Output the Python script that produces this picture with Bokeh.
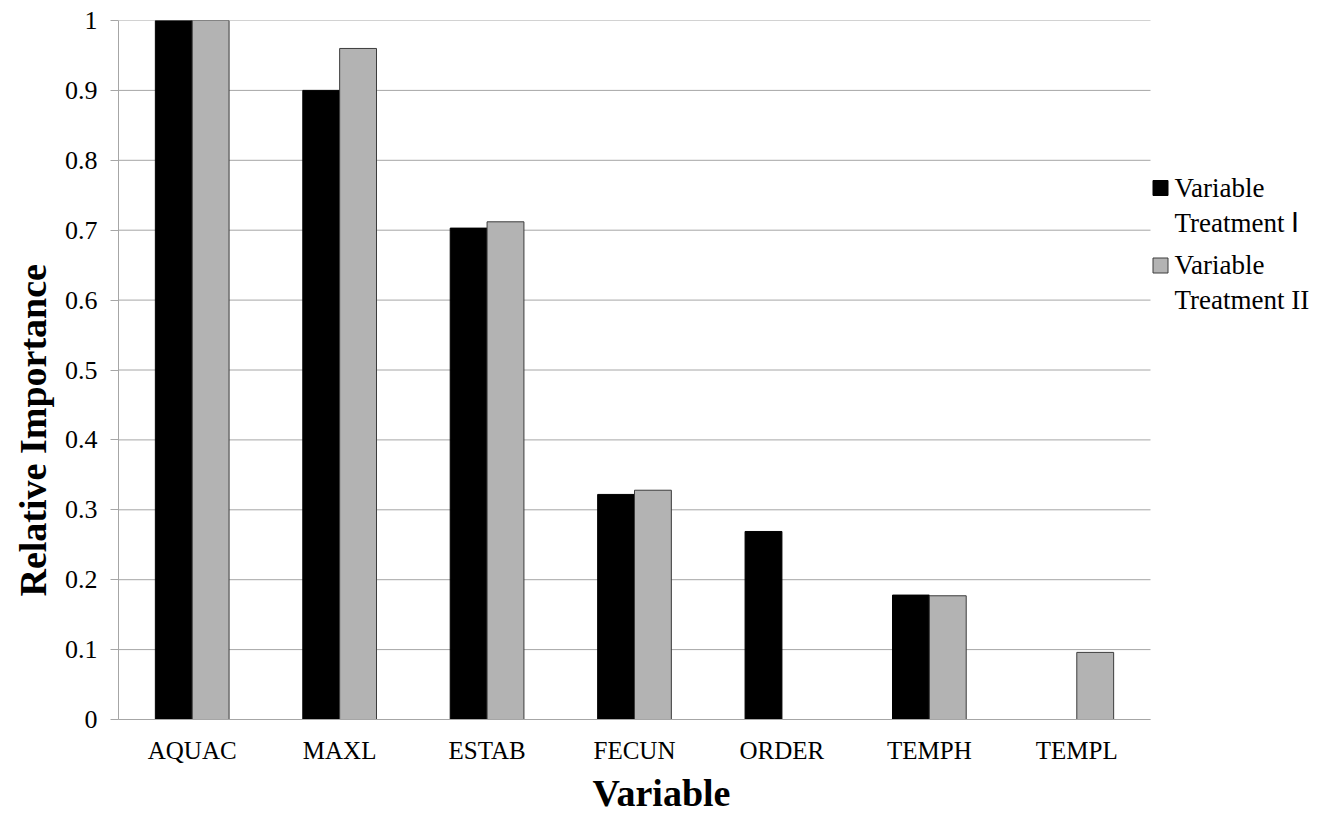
import numpy as np
from bokeh.plotting import figure
from bokeh.models import Range1d, FixedTicker, ColumnDataSource, Label, Title
from bokeh.embed import file_html
from bokeh.resources import INLINE

nan = float("nan")

# ---- data ----
categories = ["AQUAC", "MAXL", "ESTAB", "FECUN", "ORDER", "TEMPH", "TEMPL"]
treatment_1 = [1.0, 0.90, 0.703, 0.322, 0.269, 0.178, nan]
treatment_2 = [1.0, 0.96, 0.712, 0.328, nan, 0.177, 0.096]
y_ticks = [0, 0.1, 0.2, 0.3, 0.4, 0.5, 0.6, 0.7, 0.8, 0.9, 1.0]
y_tick_labels = ["0", "0.1", "0.2", "0.3", "0.4", "0.5", "0.6", "0.7", "0.8", "0.9", "1"]
legend_lines = [["Variable", "Treatment \u2160"], ["Variable", "Treatment II"]]
legend_fill = ["black", "#b3b3b3"]
legend_line = ["black", "#3c3c3c"]
x_title = "Variable"
y_title = "Relative Importance"

SERIF = "Liberation Serif"
GRID = "#a6a6a6"

# ---- layout geometry (pixels, canvas == page) ----
W, H = 1336, 816
B_LEFT, B_TOP, B_BOTTOM = 118, 20, 97
n = len(categories)
CAT_PX = (1150 - B_LEFT) / n          # pixel width of one category slot
frame_w = W - B_LEFT
frame_h = H - B_TOP - B_BOTTOM
x0 = -0.5
x1 = x0 + frame_w / CAT_PX
idx = np.arange(n)

def px_x(px):   # canvas pixel -> data x
    return x0 + (px - B_LEFT) / CAT_PX

def px_y(py):   # canvas pixel -> data y
    return (H - B_BOTTOM - py) / frame_h

src = ColumnDataSource(dict(x1=idx - 0.125, x2=idx + 0.125, t1=treatment_1, t2=treatment_2))

p = figure(
    x_range=Range1d(x0, x1), y_range=Range1d(0, 1),
    width=W, height=H, output_backend="svg", toolbar_location=None,
    min_border_left=B_LEFT, min_border_right=0, min_border_top=B_TOP, min_border_bottom=B_BOTTOM,
)
p.outline_line_color = None
p.background_fill_color = "white"
p.border_fill_color = "white"
p.xgrid.grid_line_color = None
p.ygrid.grid_line_color = None

# horizontal gridlines across the category area only
p.segment(x0=[x0] * len(y_ticks), x1=[n - 0.5] * len(y_ticks), y0=y_ticks, y1=y_ticks,
          line_color=GRID, line_width=1)

p.vbar(x="x1", top="t1", width=0.25, source=src,
       fill_color="black", line_color="black", line_width=1)
p.vbar(x="x2", top="t2", width=0.25, source=src,
       fill_color="#b3b3b3", line_color="#3c3c3c", line_width=1)

p.yaxis.ticker = FixedTicker(ticks=y_ticks)
p.yaxis.major_label_overrides = {t: l for t, l in zip(y_ticks, y_tick_labels)}
p.yaxis.axis_line_color = GRID
p.yaxis.major_tick_line_color = GRID
p.yaxis.major_tick_out = 8
p.yaxis.major_tick_in = 0
p.yaxis.minor_tick_line_color = None
p.yaxis.major_label_standoff = 13
p.yaxis.major_label_text_font = SERIF
p.yaxis.major_label_text_font_size = "26px"
p.yaxis.major_label_text_color = "black"

p.xaxis.ticker = FixedTicker(ticks=list(idx))
p.xaxis.major_label_overrides = {int(i): c for i, c in zip(idx, categories)}
p.xaxis.bounds = (x0, n - 0.5)
p.xaxis.axis_line_color = GRID
p.xaxis.major_tick_line_color = None
p.xaxis.minor_tick_line_color = None
p.xaxis.major_tick_out = 0
p.xaxis.major_tick_in = 0
p.xaxis.major_label_standoff = 17
p.xaxis.major_label_text_font = SERIF
p.xaxis.major_label_text_font_size = "25px"
p.xaxis.major_label_text_color = "black"

# ---- axis titles (as side-panel titles, offset like the original) ----
p.add_layout(Title(text=y_title, align="left", offset=719 - 596, standoff=14,
                   vertical_align="middle",
                   text_font=SERIF, text_font_size="38px", text_font_style="bold",
                   text_color="black"), "left")
p.add_layout(Title(text=x_title, align="left", offset=592 - B_LEFT, standoff=6,
                   text_font=SERIF, text_font_size="38px", text_font_style="bold",
                   text_color="black"), "below")

# ---- legend, drawn inside the (extended) frame to the right of the bars ----
p.rect(x=[px_x(1160)] * 2, y=[px_y(187.5), px_y(265)], width=15, height=15,
       width_units="screen", height_units="screen",
       fill_color=legend_fill, line_color=legend_line, line_width=1)
txt = [line for item in legend_lines for line in item]
mid_y = [187, 222, 264, 299]
for t, my in zip(txt, mid_y):
    p.add_layout(Label(x=px_x(1174), y=px_y(my), text=t,
                       text_font=SERIF, text_font_size="27px", text_color="black",
                       text_align="left", text_baseline="middle"))

open("out.html", "w").write(file_html(p, INLINE))
